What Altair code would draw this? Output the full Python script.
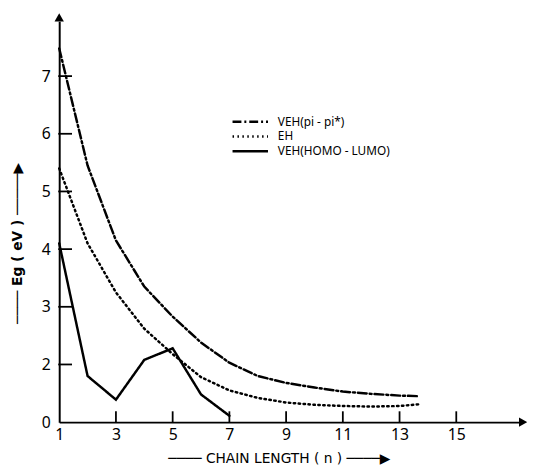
import altair as alt
import pandas as pd

# ---- data ----
n_smooth = [1, 2, 3, 4, 5, 6, 7, 8, 9, 10, 11, 12, 13, 13.7]
veh_pipi = [7.48, 5.45, 4.15, 3.35, 2.83, 2.38, 2.03, 1.80, 1.68, 1.60, 1.53, 1.49, 1.46, 1.45]
eh = [5.40, 4.10, 3.25, 2.62, 2.18, 1.78, 1.55, 1.42, 1.34, 1.30, 1.28, 1.27, 1.28, 1.31]
n_homo = [1, 2, 3, 4, 5, 6, 7]
veh_homo = [4.10, 1.80, 1.39, 2.08, 2.28, 1.48, 1.11]
series_names = ["VEH(pi - pi*)", "EH", "VEH(HOMO - LUMO)"]
x_ticks = [1, 3, 5, 7, 9, 11, 13, 15]
y_ticks = [1, 2, 3, 4, 5, 6, 7]   # the bottom tick (1) is printed as "0" in the original

dashes = [[9, 3, 2, 3], [1.5, 3.5], [1, 0]]

rows = []
for n, v in zip(n_smooth, veh_pipi):
    rows.append({"n": n, "v": v, "s": series_names[0]})
for n, v in zip(n_smooth, eh):
    rows.append({"n": n, "v": v, "s": series_names[1]})
for n, v in zip(n_homo, veh_homo):
    rows.append({"n": n, "v": v, "s": series_names[2]})
df = pd.DataFrame(rows)

W, H = 470, 407
FONT = "Noto Sans"

xs = alt.Scale(domain=[1, 17.32], nice=False, zero=False)
ys = alt.Scale(domain=[1, 7.95], nice=False, zero=False)

x_main = alt.X(
    "n:Q", scale=xs,
    axis=alt.Axis(
        values=x_ticks, ticks=False, grid=False, domainWidth=2, domainColor="black",
        labelFontSize=16, labelFont=FONT, labelColor="black", labelPadding=5, labelFlush=False,
        format="d",
        title="──── CHAIN LENGTH ( n ) ────▶", titleFont="DejaVu Sans", titleFontSize=14,
        titleFontWeight="normal", titleColor="black", titleX=223, titleY=37,
        titleAlign="center", titleBaseline="middle",
    ),
)
y_main = alt.Y(
    "v:Q", scale=ys,
    axis=alt.Axis(
        values=y_ticks, format="d", labelExpr="datum.value == 1 ? '0' : datum.label",
        ticks=False, grid=False, domainWidth=2, domainColor="black",
        labelFontSize=16, labelFont=FONT, labelColor="black", labelPadding=9,
        title="──── Eg ( eV ) ─────▶", titleFont="DejaVu Sans", titleFontSize=14,
        titleFontWeight="bold", titleColor="black", titleX=-42, titleY=225,
        titleAlign="center", titleBaseline="middle",
    ),
)

lines = alt.Chart(df).mark_line(color="black", strokeCap="round", strokeWidth=2.5).encode(
    x=x_main,
    y=y_main,
    strokeDash=alt.StrokeDash(
        "s:N", scale=alt.Scale(domain=series_names, range=dashes), legend=None
    ),
    order="n:Q",
)

# inward tick marks, drawn through the same scales
ytick_df = pd.DataFrame({"v": y_ticks[1:]})
xtick_df = pd.DataFrame({"n": x_ticks[1:]})
yticks = alt.Chart(ytick_df).mark_tick(
    color="black", thickness=1.8, size=14, orient="horizontal", opacity=1
).encode(y=alt.Y("v:Q", scale=ys), x=alt.value(6))
xticks = alt.Chart(xtick_df).mark_tick(
    color="black", thickness=1.8, size=11, orient="vertical", opacity=1
).encode(x=alt.X("n:Q", scale=xs), y=alt.value(H - 5.5))

one = pd.DataFrame({"a": [0]})
arrow_up = alt.Chart(one).mark_point(
    shape="triangle-up", filled=True, color="black", size=90, opacity=1
).encode(x=alt.value(0), y=alt.value(-4))
arrow_right = alt.Chart(one).mark_point(
    shape="triangle-right", filled=True, color="black", size=90, opacity=1
).encode(x=alt.value(W + 1), y=alt.value(H))

legend_rows = [102, 117, 132]
legend_layers = []
for name, dash, ly in zip(series_names, dashes, legend_rows):
    legend_layers.append(
        alt.Chart(one).mark_rule(color="black", strokeWidth=2.5, strokeDash=dash).encode(
            x=alt.value(176), x2=alt.value(212), y=alt.value(ly)
        )
    )
    legend_layers.append(
        alt.Chart(one).mark_text(
            align="left", baseline="middle", font=FONT, fontSize=12, color="black"
        ).encode(x=alt.value(222), y=alt.value(ly), text=alt.value(name))
    )

chart = alt.layer(lines, yticks, xticks, arrow_up, arrow_right, *legend_layers).properties(
    width=W, height=H,
    autosize=alt.AutoSizeParams(type="none"),
    padding={"left": 52, "top": 10, "right": 5, "bottom": 40},
    background="white",
).configure_view(stroke=None)

chart.save("out.html", embed_options={"renderer": "svg", "actions": False})
